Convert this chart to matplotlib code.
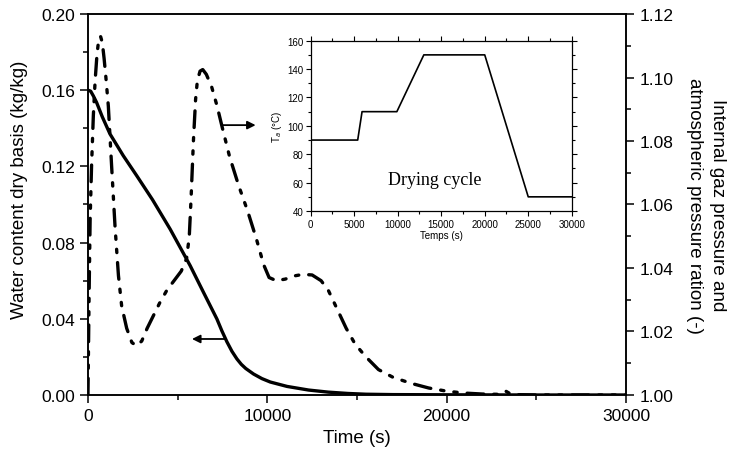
import numpy as np
import matplotlib
matplotlib.use("Agg")
import matplotlib.pyplot as plt
from matplotlib.ticker import MultipleLocator

plt.rcParams['font.family'] = ['Liberation Sans', 'DejaVu Sans']

# water content dry basis (kg/kg) vs time (s)
t_water = [0, 150, 300, 480, 800, 1230, 1970, 2720, 3600, 4581, 5699, 6441,
           7190, 7470, 7749, 8030, 8308, 8550, 8800, 9235, 9700, 10168, 11100,
           12300, 13400, 14500, 15500, 17000, 20000, 25000, 30000]
water = [0.1600, 0.1595, 0.157, 0.1536, 0.146, 0.137, 0.1256, 0.1151, 0.1025,
         0.0871, 0.0679, 0.0539, 0.0399, 0.0336, 0.0279, 0.0229, 0.0189,
         0.0161, 0.0139, 0.0110, 0.0086, 0.0068, 0.0045, 0.0026, 0.0015,
         0.0008, 0.0004, 0.0002, 0.0001, 0.0, 0.0]

# internal gas pressure / atmospheric pressure ratio vs time (s)
t_press = [0, 60, 120, 200, 300, 400, 500, 600, 700, 800, 900, 1000, 1136,
           1320, 1510, 1700, 1880, 2160, 2450, 2720, 3000, 3300, 3650, 4000,
           4400, 4800, 5200, 5500, 5650, 5750, 5880, 6000, 6100, 6250, 6400,
           6600, 6900, 7200, 7500, 7900, 8400, 8900, 9400, 9800, 10100, 10500,
           11000, 11500, 12000, 12500, 13000, 13400, 13900, 14400, 14900,
           15500, 16200, 17000, 18000, 19000, 20000, 21000, 22000, 23000,
           23300, 23600, 24000, 25000, 27000, 30000]
press = [1.000, 1.030, 1.055, 1.072, 1.088, 1.099, 1.107, 1.112, 1.113, 1.111,
         1.106, 1.100, 1.091, 1.072, 1.053, 1.0376, 1.028, 1.021, 1.0165,
         1.0155, 1.017, 1.021, 1.025, 1.029, 1.033, 1.036, 1.039, 1.043,
         1.050, 1.062, 1.080, 1.093, 1.099, 1.102, 1.1025, 1.101, 1.097,
         1.091, 1.084, 1.075, 1.066, 1.058, 1.049, 1.041, 1.037, 1.036,
         1.0365, 1.0375, 1.038, 1.0378, 1.036, 1.033, 1.027, 1.021, 1.016,
         1.012, 1.008, 1.0056, 1.0037, 1.0022, 1.0012, 1.0006, 1.0003, 1.0002,
         1.0012, 1.0002, 1.0001, 1.0, 1.0, 1.0]

# drying cycle: air temperature (°C) vs time (s)
t_cycle = [0, 5400, 5900, 9900, 13000, 20000, 25000, 30000]
temp_cycle = [90, 90, 110, 110, 150, 150, 50, 50]

fig = plt.figure(figsize=(7.33, 4.56), dpi=100)
ax = fig.add_axes([0.120, 0.1316, 0.734, 0.8355])
ax2 = ax.twinx()

ax.plot(t_water, water, color='black', lw=2.4, solid_capstyle='round',
        solid_joinstyle='round', zorder=3)
ax2.plot(t_press, press, color='black', lw=2.4,
         dashes=(5, 3, 1, 3, 1, 3), dash_capstyle='round')

ax.set_xlim(0, 30000)
ax.set_ylim(0, 0.20)
ax2.set_ylim(1.00, 1.12)
ax.xaxis.set_major_locator(MultipleLocator(10000))
ax.xaxis.set_minor_locator(MultipleLocator(5000))
ax.yaxis.set_major_locator(MultipleLocator(0.04))
ax.yaxis.set_minor_locator(MultipleLocator(0.02))
ax2.yaxis.set_major_locator(MultipleLocator(0.02))
ax2.yaxis.set_minor_locator(MultipleLocator(0.01))
ax.yaxis.set_major_formatter(plt.FuncFormatter(lambda v, p: f"{v:.2f}"))
ax2.yaxis.set_major_formatter(plt.FuncFormatter(lambda v, p: f"{v:.2f}"))

for a in (ax, ax2):
    a.tick_params(which='major', direction='out', length=6, width=1.1, labelsize=12.5)
    a.tick_params(which='minor', direction='out', length=3.5, width=1.1)
    for s in a.spines.values():
        s.set_linewidth(1.1)

ax.set_xlabel('Time (s)', fontsize=13.5, labelpad=4)
ax.set_ylabel('Water content dry basis (kg/kg)', fontsize=13.5)
ax.yaxis.set_label_coords(-0.112, 0.54)
ax2.set_ylabel('Internal gaz pressure and\natmospheric pressure ration (-)',
               fontsize=13.5, rotation=270, labelpad=38, linespacing=1.45)

# arrows pointing to the relevant axes
ax.annotate('', xy=(5800, 0.0294), xytext=(7700, 0.0294),
            arrowprops=dict(arrowstyle='-|>', color='black', lw=1.3,
                            mutation_scale=12, shrinkA=0, shrinkB=0))
ax2.annotate('', xy=(9350, 1.085), xytext=(7470, 1.085),
             arrowprops=dict(arrowstyle='-|>', color='black', lw=1.3,
                             mutation_scale=12, shrinkA=0, shrinkB=0))

# inset: drying cycle
axin = fig.add_axes([0.4239, 0.535, 0.3561, 0.3736])
axin.plot(t_cycle, temp_cycle, color='black', lw=1.2)
axin.set_xlim(0, 30000)
axin.set_ylim(40, 160)
axin.xaxis.set_major_locator(MultipleLocator(5000))
axin.xaxis.set_minor_locator(MultipleLocator(2500))
axin.yaxis.set_major_locator(MultipleLocator(20))
axin.yaxis.set_minor_locator(MultipleLocator(10))
axin.tick_params(which='major', direction='out', length=3.5, width=0.8,
                 labelsize=7, pad=2)
axin.tick_params(which='minor', direction='out', length=2, width=0.8)
axin.tick_params(which='both', right=True, top=True)
for s in axin.spines.values():
    s.set_linewidth(0.9)
axin.set_xlabel('Temps (s)', fontsize=7, labelpad=1)
axin.set_ylabel('T$_a$ (°C)', fontsize=7, labelpad=2)
axin.text(14300, 62, 'Drying cycle', family=['Liberation Serif', 'DejaVu Serif'],
          fontsize=13, ha='center', va='center')

fig.savefig('out.png', dpi=100)
